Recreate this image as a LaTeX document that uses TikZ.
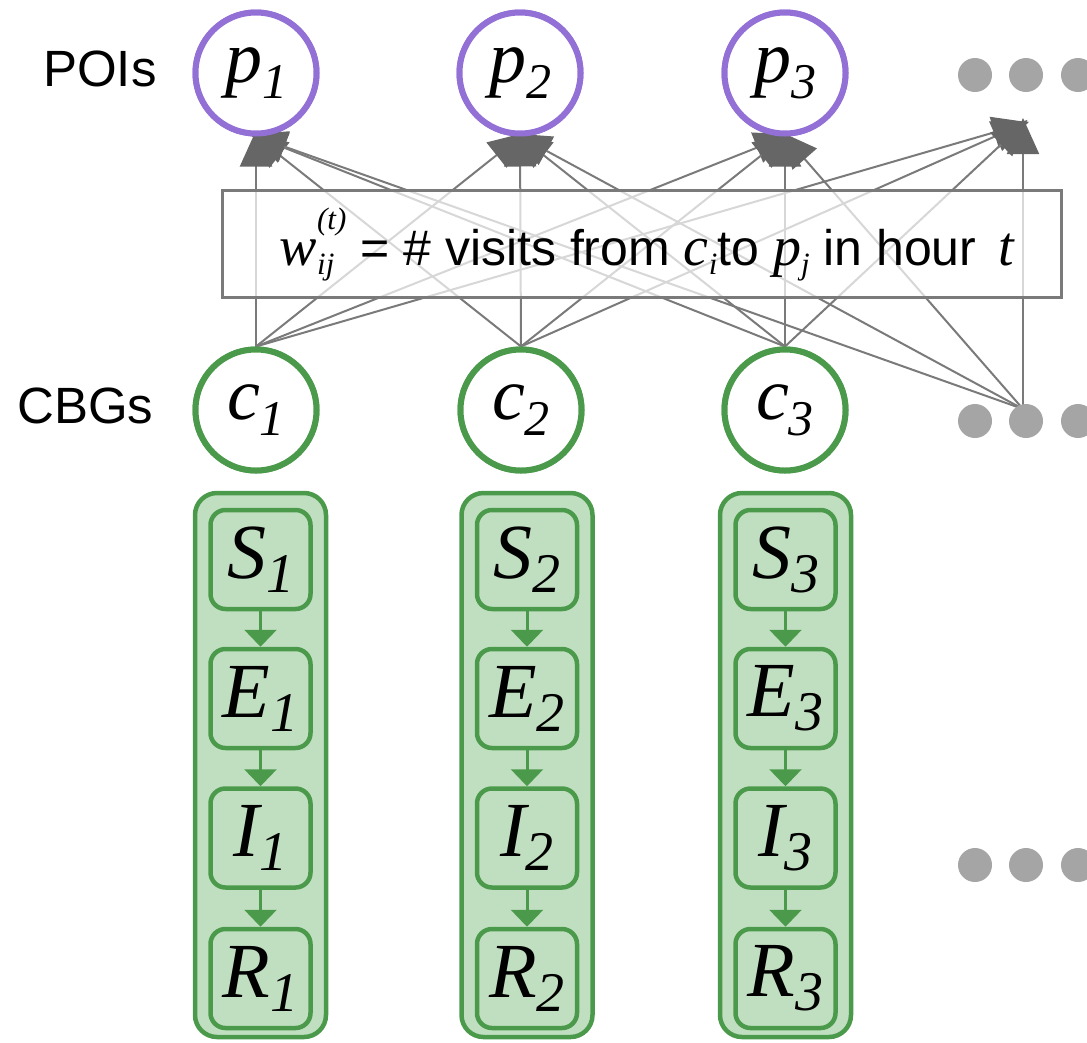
\documentclass[tikz,border=0pt]{standalone}
\usepackage{fontspec}
\setmainfont{Liberation Sans}
\newfontfamily\myserif{Liberation Serif}
\usetikzlibrary{arrows.meta}
\definecolor{purp}{HTML}{9370D6}
\definecolor{grn}{HTML}{4B9A4B}
\definecolor{lgrn}{HTML}{C0DFC0}
\definecolor{dotg}{HTML}{A5A5A5}
\definecolor{lineg}{HTML}{7A7A7A}
\definecolor{arrg}{HTML}{666666}
\newcommand{\circlab}[2]{{\fontsize{74}{74}\selectfont\myserif\itshape #1\raisebox{-16pt}{\fontsize{50}{50}\selectfont #2}}}
\newcommand{\boxlab}[2]{{\fontsize{78}{78}\selectfont\myserif\itshape #1\raisebox{-14pt}{\fontsize{56}{56}\selectfont #2}}}
\newcommand{\mvar}[1]{{\fontsize{56}{56}\selectfont\myserif\itshape #1}}
\newcommand{\msmall}{\fontsize{31}{31}\selectfont\myserif\itshape}
\tikzset{
  poi/.style={circle, draw=purp, line width=6pt, fill=white, minimum size=121pt, inner sep=0pt},
  cbg/.style={circle, draw=grn, line width=6pt, fill=white, minimum size=121pt, inner sep=0pt},
  dotnode/.style={circle, fill=dotg, minimum size=34pt, inner sep=0pt},
  visit/.style={draw=lineg, line width=2pt, shorten >=-6pt, -{Triangle[length=36pt,width=32pt,color=arrg]}},
  wbox/.style={rectangle, draw=lineg, line width=3pt, fill=white, fill opacity=0.7, minimum width=839pt, minimum height=107pt, inner sep=0pt},
  colbox/.style={rectangle, rounded corners=22pt, draw=grn, fill=lgrn, line width=4.5pt, minimum width=131pt, minimum height=544pt, inner sep=0pt},
  seir/.style={rectangle, rounded corners=15pt, draw=grn, fill=lgrn, line width=4.5pt, minimum width=100pt, minimum height=99pt, inner sep=0pt},
  flow/.style={draw=grn, line width=3pt, -{Triangle[length=17pt,width=32pt]}},
  rowlab/.style={font=\fontsize{51}{51}\selectfont, anchor=base west, inner sep=0pt}
}
\begin{document}
\begin{tikzpicture}[x=1pt,y=-1pt]
\useasboundingbox (0,0) rectangle (1087,1042);
% node positions (drawn later on top)
\path (256,73) node[poi] (p1) {}
      (520,73) node[poi] (p2) {}
      (785,73) node[poi] (p3) {};
\coordinate (p4) at (1023,124);
\path (256,410) node[cbg] (c1) {}
      (521,410) node[cbg] (c2) {}
      (785,410) node[cbg] (c3) {};
\coordinate (c4) at (1023,409);
% visit edges
\foreach \c in {c1,c2,c3}{
  \foreach \p in {p1,p2,p3}{
    \draw[visit] (\c.north) -- (\p.south);
  }
  \draw[visit] (\c.north) -- (p4);
}
\foreach \p in {p1,p2,p3}{
  \draw[visit] (c4) -- (\p.south);
}
\draw[visit] (c4) -- (p4);
% weight box
\node[wbox] (wbox) at (642,244) {};
\node[anchor=base, inner sep=0pt, font=\fontsize{50}{50}\selectfont] (wtext) at (647,265)
  {\mvar{w}\rlap{\raisebox{-9pt}{\msmall ij}}\raisebox{36pt}{\msmall (t)} = \# visits from \mvar{c}\raisebox{-9pt}{\msmall i}to \mvar{p}\raisebox{-9pt}{\msmall j} in hour\, \mvar{t}};
% circles on top
\node[poi] at (p1) {\circlab{p}{1}};
\node[poi] at (p2) {\circlab{p}{2}};
\node[poi] at (p3) {\circlab{p}{3}};
\node[cbg] at (c1) {\circlab{c}{1}};
\node[cbg] at (c2) {\circlab{c}{2}};
\node[cbg] at (c3) {\circlab{c}{3}};
% row labels
\node[rowlab] (poilab) at (43,86) {POIs};
\node[rowlab] (cbglab) at (17,423) {CBGs};
% dots
\foreach \y/\n in {75/a,421/b,865/c}{
  \node[dotnode] (d\n1) at (975,\y) {};
  \node[dotnode] (d\n2) at (1026,\y) {};
  \node[dotnode] (d\n3) at (1078,\y) {};
}
% SEIR columns
\foreach \k/\x in {1/260.5,2/527,3/785.5}{
  \node[colbox] (col\k) at (\x,765) {};
  \node[seir] (S\k) at (\x,559.5) {\boxlab{S}{\k}};
  \node[seir] (E\k) at (\x,698.5) {\boxlab{E}{\k}};
  \node[seir] (I\k) at (\x,838) {\boxlab{I}{\k}};
  \node[seir] (R\k) at (\x,978.5) {\boxlab{R}{\k}};
  \draw[flow] (S\k) -- (E\k);
  \draw[flow] (E\k) -- (I\k);
  \draw[flow] (I\k) -- (R\k);
}
\end{tikzpicture}
\end{document}
